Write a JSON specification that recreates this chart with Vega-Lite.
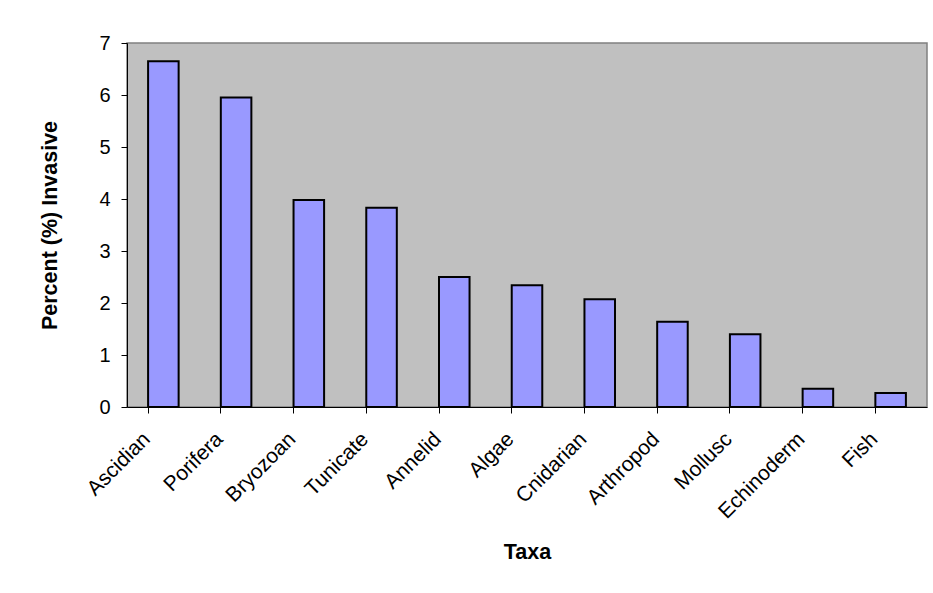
{
  "$schema": "https://vega.github.io/schema/vega-lite/v6.json",
  "autosize": {"type": "none"},
  "width": 800,
  "height": 364,
  "padding": {"left": 127, "top": 43, "right": 6, "bottom": 186},
  "background": "white",
  "data": {
    "values": [
      {"taxon": "Ascidian", "percent": 6.65},
      {"taxon": "Porifera", "percent": 5.95},
      {"taxon": "Bryozoan", "percent": 3.98},
      {"taxon": "Tunicate", "percent": 3.83},
      {"taxon": "Annelid", "percent": 2.5},
      {"taxon": "Algae", "percent": 2.34},
      {"taxon": "Cnidarian", "percent": 2.07},
      {"taxon": "Arthropod", "percent": 1.64},
      {"taxon": "Mollusc", "percent": 1.4},
      {"taxon": "Echinoderm", "percent": 0.35},
      {"taxon": "Fish", "percent": 0.27}
    ]
  },
  "mark": {"type": "bar", "fill": "#9999FF", "stroke": "#000000", "strokeWidth": 2},
  "encoding": {
    "x": {
      "field": "taxon",
      "type": "nominal",
      "sort": null,
      "title": "Taxa",
      "scale": {"paddingInner": 0.58, "paddingOuter": 0.29},
      "axis": {
        "labelAngle": -45,
        "labelAlign": "right",
        "labelBaseline": "top",
        "labelPadding": 15,
        "labelOffset": -24,
        "labelFont": "Liberation Sans",
        "labelFontSize": 21,
        "labelColor": "#000000",
        "labelOverlap": false,
        "bandPosition": 0,
        "tickColor": "#000000",
        "tickSize": 6,
        "domainColor": "#000000",
        "titleFont": "Liberation Sans",
        "titleFontSize": 21.5,
        "titleFontWeight": "bold",
        "titleColor": "#000000",
        "titleY": 145,
        "titleBaseline": "middle"
      }
    },
    "y": {
      "field": "percent",
      "type": "quantitative",
      "title": "Percent (%) Invasive",
      "scale": {"domain": [0, 7], "nice": false},
      "axis": {
        "values": [0, 1, 2, 3, 4, 5, 6, 7],
        "grid": false,
        "labelFont": "Liberation Sans",
        "labelFontSize": 20,
        "labelColor": "#000000",
        "labelPadding": 11,
        "tickColor": "#000000",
        "tickSize": 6,
        "domainColor": "#000000",
        "titleFont": "Liberation Sans",
        "titleFontSize": 21.5,
        "titleFontWeight": "bold",
        "titleColor": "#000000",
        "titleX": -77,
        "titleBaseline": "middle"
      }
    }
  },
  "config": {
    "view": {"fill": "#C0C0C0", "stroke": "#808080", "strokeWidth": 1.5}
  }
}
